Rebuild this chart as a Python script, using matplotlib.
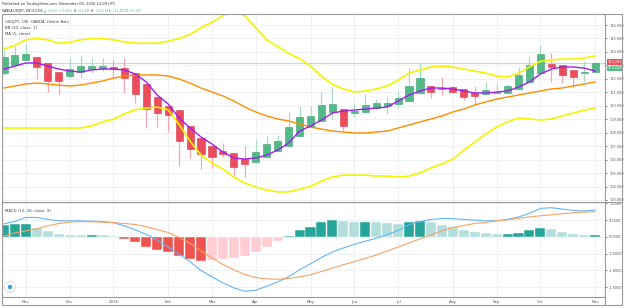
import numpy as np
import matplotlib.pyplot as plt
from matplotlib.patches import Rectangle, Circle

# weekly Heikin Ashi candles (Oct 2015 - Nov 2016)
ha_open = [112.43, 113.03, 113.40, 113.62, 113.18, 112.51, 112.21, 112.51, 112.73, 112.81,
           112.88, 112.81, 112.43, 111.62, 110.65, 109.98, 109.68, 108.50, 107.60, 107.01,
           106.64, 106.49, 106.04, 105.82, 106.19, 106.64, 107.01, 107.75, 108.42, 108.87,
           109.54, 109.76, 109.46, 109.54, 109.83, 109.98, 110.13, 110.35, 110.95, 111.47,
           111.32, 111.39, 111.25, 110.95, 110.87, 110.95, 110.95, 111.25, 111.77, 112.43,
           113.10, 113.03, 112.66, 112.43, 112.51]
ha_high = [114.14, 114.44, 114.66, 113.62, 113.18, 112.51, 113.55, 113.77, 113.55, 113.55,
           113.40, 113.55, 112.43, 111.62, 110.65, 109.98, 109.68, 108.50, 107.60, 107.01,
           107.23, 106.49, 107.01, 107.46, 107.75, 107.83, 109.54, 109.98, 109.98, 111.02,
           111.39, 109.76, 110.21, 110.87, 110.50, 110.65, 111.02, 112.81, 113.18, 111.47,
           112.14, 111.47, 111.25, 111.47, 111.77, 111.69, 111.62, 112.88, 113.70, 114.51,
           113.92, 113.03, 112.66, 113.33, 113.25]
ha_low = [112.30, 113.03, 113.40, 111.99, 111.02, 110.87, 112.06, 112.06, 112.43, 112.58,
          112.14, 110.95, 110.21, 108.35, 108.42, 108.05, 105.52, 106.12, 105.30, 105.38,
          106.19, 104.71, 104.71, 105.82, 106.19, 106.64, 107.01, 107.75, 108.42, 108.87,
          109.02, 108.12, 109.16, 109.39, 109.68, 109.39, 109.91, 110.35, 110.95, 110.58,
          110.80, 110.95, 110.43, 110.06, 110.87, 110.95, 110.95, 111.25, 111.77, 112.43,
          111.77, 111.69, 111.39, 111.77, 112.51]
ha_close = [113.62, 113.77, 113.85, 112.88, 111.84, 111.84, 112.73, 112.95, 112.95, 112.95,
            112.73, 112.06, 110.87, 109.76, 109.46, 109.31, 107.38, 106.79, 106.42, 106.19,
            106.42, 105.45, 105.67, 106.56, 107.16, 107.38, 108.42, 109.16, 109.24, 110.06,
            110.13, 108.50, 109.61, 110.06, 110.21, 110.21, 110.58, 111.47, 112.06, 111.02,
            111.25, 111.02, 110.65, 110.73, 111.17, 111.02, 111.47, 112.29, 113.03, 113.85,
            112.88, 112.29, 112.14, 112.51, 113.18]

bb_upper = [114.2, 114.5, 114.9, 115.0, 114.9, 114.65, 114.7, 114.9, 115.0, 115.0,
            114.9, 114.75, 114.65, 114.65, 114.65, 114.8, 115.0, 115.3, 115.8, 116.2,
            116.7, 117.0, 116.7, 115.8, 114.9, 114.4, 113.9, 113.5, 112.95, 112.2,
            111.6, 111.25, 111.02, 111.10, 111.25, 111.47, 111.9, 112.43, 112.66, 112.88,
            112.95, 112.88, 112.73, 112.58, 112.43, 112.21, 112.14, 112.43, 112.88, 113.3,
            113.4, 113.47, 113.47, 113.55, 113.7]
bb_basis = [111.32, 111.47, 111.62, 111.69, 111.62, 111.54, 111.47, 111.54, 111.69, 111.84,
            112.06, 112.21, 112.29, 112.29, 112.29, 112.21, 111.99, 111.69, 111.32, 111.02,
            110.73, 110.35, 109.91, 109.54, 109.24, 109.02, 108.87, 108.65, 108.42, 108.27,
            108.12, 108.05, 107.98, 107.98, 108.05, 108.12, 108.35, 108.57, 108.80, 109.02,
            109.24, 109.54, 109.76, 110.06, 110.28, 110.50, 110.65, 110.80, 110.95, 111.10,
            111.25, 111.32, 111.47, 111.62, 111.77]
bb_lower = [108.35, 108.35, 108.35, 108.35, 108.35, 108.35, 108.35, 108.35, 108.5, 108.8,
            109.0, 109.4, 109.7, 109.83, 109.9, 109.7, 108.6, 107.38, 106.34, 105.75,
            105.3, 104.7, 104.26, 103.96, 103.74, 103.6, 103.6, 103.8, 104.0, 104.4,
            104.7, 104.85, 104.85, 104.85, 104.78, 104.78, 104.7, 104.78, 105.0, 105.38,
            105.67, 106.04, 106.7, 107.3, 107.9, 108.42, 108.8, 109.1, 109.02, 108.94,
            109.02, 109.24, 109.46, 109.68, 109.83]
ma5 = [112.73, 112.95, 113.18, 113.18, 112.95, 112.73, 112.58, 112.51, 112.66, 112.73,
       112.73, 112.66, 112.36, 111.77, 110.80, 110.13, 109.09, 108.35, 107.68, 107.16,
       106.56, 106.12, 106.04, 106.12, 106.34, 106.71, 107.23, 108.12, 108.50, 108.94,
       109.46, 109.61, 109.68, 109.76, 109.83, 109.91, 110.35, 110.80, 111.10, 111.32,
       111.32, 111.25, 111.10, 110.95, 110.95, 111.02, 111.10, 111.39, 111.77, 112.36,
       112.73, 112.88, 112.88, 112.80, 112.58]

macd_hist = [0.35, 0.37, 0.38, 0.28, 0.18, 0.09, 0.07, 0.06, 0.06, 0.05,
             0.02, -0.05, -0.14, -0.30, -0.40, -0.45, -0.58, -0.65, -0.71, -0.69,
             -0.65, -0.62, -0.58, -0.44, -0.29, -0.12, 0.03, 0.21, 0.31, 0.43,
             0.50, 0.46, 0.43, 0.45, 0.43, 0.42, 0.39, 0.43, 0.48, 0.43,
             0.35, 0.29, 0.21, 0.14, 0.11, 0.08, 0.085, 0.13, 0.21, 0.26,
             0.24, 0.16, 0.08, 0.05, 0.07]
macd_line = [0.39, 0.46, 0.58, 0.58, 0.52, 0.48, 0.48, 0.48, 0.47, 0.455,
             0.425, 0.33, 0.21, 0.074, -0.09, -0.30, -0.52, -0.74, -1.0, -1.19,
             -1.37, -1.52, -1.62, -1.59, -1.47, -1.34, -1.19, -0.98, -0.80, -0.61,
             -0.45, -0.33, -0.22, -0.13, -0.04, 0.07, 0.19, 0.36, 0.46, 0.52,
             0.55, 0.545, 0.52, 0.50, 0.48, 0.48, 0.52, 0.595, 0.70, 0.85,
             0.87, 0.83, 0.79, 0.77, 0.80]
signal_line = [0.03, 0.12, 0.18, 0.24, 0.33, 0.40, 0.44, 0.455, 0.45, 0.44,
               0.425, 0.40, 0.37, 0.30, 0.22, 0.13, -0.015, -0.19, -0.42, -0.63,
               -0.82, -0.98, -1.12, -1.21, -1.25, -1.26, -1.24, -1.19, -1.13, -1.03,
               -0.93, -0.83, -0.735, -0.64, -0.54, -0.42, -0.30, -0.18, -0.06, 0.06,
               0.18, 0.28, 0.34, 0.40, 0.43, 0.48, 0.51, 0.55, 0.595, 0.63,
               0.66, 0.69, 0.72, 0.74, 0.75]

month_pos = [2, 6, 10, 15, 19, 23, 28, 32, 36, 41, 45, 49, 54]
month_labels = ['Nov', 'Dec', '2016', 'Feb', 'Mar', 'Apr', 'May', 'Jun', 'Jul', 'Aug', 'Sep', 'Oct', 'Nov']

W, H = 625, 308
plt.rcParams['font.family'] = 'DejaVu Sans'
fig = plt.figure(figsize=(W / 100, H / 100), dpi=100)

def fy(y):
    return 1 - y / H

fs = 2.8       # text is tiny in the reference
tick_fs = 2.5
x0, x1 = 2, 605
ax = fig.add_axes([x0 / W, fy(202), (x1 - x0) / W, (202 - 14) / H])
ax2 = fig.add_axes([x0 / W, fy(297), (x1 - x0) / W, (297 - 202) / H], sharex=ax)

x = np.arange(len(ha_open))
o = np.array(ha_open); c = np.array(ha_close)
up = c >= o
green, red = '#53b987', '#eb4d5c'
grid_c = '#edf1f4'

for a in (ax, ax2):
    a.set_facecolor('white')
    for s in a.spines.values():
        s.set_visible(False)
    a.tick_params(axis='y', which='both', left=False, right=True, labelleft=False,
                  labelright=True, labelsize=tick_fs, colors='#555555', length=1.5, width=0.5, pad=1.5)
    a.tick_params(axis='x', length=0, labelsize=fs, colors='#555555', pad=2)
    a.grid(True, color=grid_c, linewidth=0.7)
    a.set_axisbelow(True)

# candles
ax.vlines(x[up], np.array(ha_low)[up], np.array(ha_high)[up], color='#a8dcc0', linewidth=0.9, zorder=2)
ax.vlines(x[~up], np.array(ha_low)[~up], np.array(ha_high)[~up], color='#f4a7ae', linewidth=0.9, zorder=2)
body = np.maximum(np.abs(c - o), 0.04)
ax.bar(x[up], body[up], bottom=np.minimum(o, c)[up], width=0.65, color=green,
       edgecolor='#3c9f6e', linewidth=0.4, zorder=3)
ax.bar(x[~up], body[~up], bottom=np.minimum(o, c)[~up], width=0.65, color=red,
       edgecolor='#d83a4b', linewidth=0.4, zorder=3)

ax.plot(x, bb_upper, color='#f4f400', linewidth=1.2, zorder=4)
ax.plot(x, bb_lower, color='#f4f400', linewidth=1.2, zorder=4)
ax.plot(x, bb_basis, color='#ff8c00', linewidth=1.0, zorder=4)
ax.plot(x, ma5, color='#9c1ff0', linewidth=1.0, zorder=5)
ax.axhline(ha_close[-1], color='#c3dccf', linewidth=0.8, zorder=1)

ax.set_ylim(102.85, 116.82)
ax.set_yticks(np.arange(103, 117, 1))
ax.set_yticklabels([f'{v:.3f}' for v in np.arange(103, 117, 1)])
ax.set_xlim(-0.18, 54.9)
ax.set_xticks(month_pos)
ax.tick_params(axis='x', labelbottom=False)

ax.text(0.005, 0.97, 'USDJPY, 1W, OANDA, Heikin Ashi', transform=ax.transAxes, fontsize=fs,
        color='#444444', va='top')
ax.text(0.005, 0.937, 'BB (20, close, 1)', transform=ax.transAxes, fontsize=fs, color='#444444', va='top')
ax.text(0.005, 0.904, 'MA (5, close)', transform=ax.transAxes, fontsize=fs, color='#444444', va='top')

# price tags
ytr = ax.get_yaxis_transform()
ax.text(1.004, 113.25, '113.255', transform=ytr, fontsize=tick_fs, color='white', va='center',
        bbox=dict(boxstyle='square,pad=0.2', fc='#eb4d5c', ec='none'), zorder=6)
ax.text(1.004, 112.78, '113.226', transform=ytr, fontsize=tick_fs, color='white', va='center',
        bbox=dict(boxstyle='square,pad=0.2', fc='#53b987', ec='none'), zorder=6)

# MACD panel
hist = np.array(macd_hist)
prev = np.concatenate([[hist[0] - 0.01], hist[:-1]])
cols = []
for h, p in zip(hist, prev):
    if h >= 0:
        cols.append('#26a69a' if h >= p else '#b2dfdb')
    else:
        cols.append('#ffcdd2' if h >= p else '#ef5350')
ax2.bar(x, hist, width=0.92, color=cols, edgecolor='white', linewidth=0.3, zorder=2)
ax2.plot(x, macd_line, color='#64b5f6', linewidth=0.8, zorder=3)
ax2.plot(x, signal_line, color='#f5a366', linewidth=0.8, zorder=3)
ax2.set_ylim(-1.79, 1.04)
ax2.set_yticks([-1.5, -1.0, -0.5, 0.0, 0.5, 1.0])
ax2.set_yticklabels([f'{v:.4f}' for v in [-1.5, -1.0, -0.5, 0.0, 0.5, 1.0]])
ax2.set_xticks(month_pos)
ax2.set_xticklabels(month_labels)
ax2.text(0.005, 0.93, 'MACD (12, 26, close, 9)', transform=ax2.transAxes, fontsize=fs,
         color='#444444', va='top')

# TradingView badge (bottom-left of MACD pane)
fig.add_artist(Circle((10, H - 287), 5.5, transform=None, facecolor='white',
                      edgecolor='#d8d8d8', linewidth=0.6, zorder=10))
fig.add_artist(Circle((10, H - 287), 2.2, transform=None, facecolor='#2e9be6',
                      edgecolor='none', zorder=11))

# frame lines
frame = '#9a9a9a'
fig.add_artist(Rectangle((2 / W, fy(305)), 620 / W, (305 - 14) / H, transform=fig.transFigure,
                         fill=False, edgecolor=frame, linewidth=0.8))
fig.add_artist(plt.Line2D([x1 / W, x1 / W], [fy(305), fy(14)], color=frame, linewidth=0.8))
fig.add_artist(plt.Line2D([2 / W, 622 / W], [fy(202), fy(202)], color=frame, linewidth=0.8))
fig.add_artist(plt.Line2D([2 / W, x1 / W], [fy(297), fy(297)], color=frame, linewidth=0.8))

# header
fig.text(2 / W, fy(4), 'Published on TradingView.com, November 05, 2016 12:09 UTC', fontsize=2.6,
         color='#333333', va='center')
renderer = fig.canvas.get_renderer()
parts = [('OANDA:USDJPY, 1W ', '#222222'), ('113.255 ', '#222222'), ('\u25b2 +0.051 (+0.05%) ', green),
         ('O: ', '#222222'), ('112.490 ', green), ('H: ', '#222222'), ('113.338 ', green),
         ('L: ', '#222222'), ('112.490 ', green), ('C: ', '#222222'), ('113.226', green)]
px = 2
for t, col in parts:
    txt = fig.text(px / W, fy(11), t, fontsize=2.1, color=col, va='center')
    px += txt.get_window_extent(renderer).width + 0.3

fig.savefig('out.png', dpi=100, facecolor='white')
